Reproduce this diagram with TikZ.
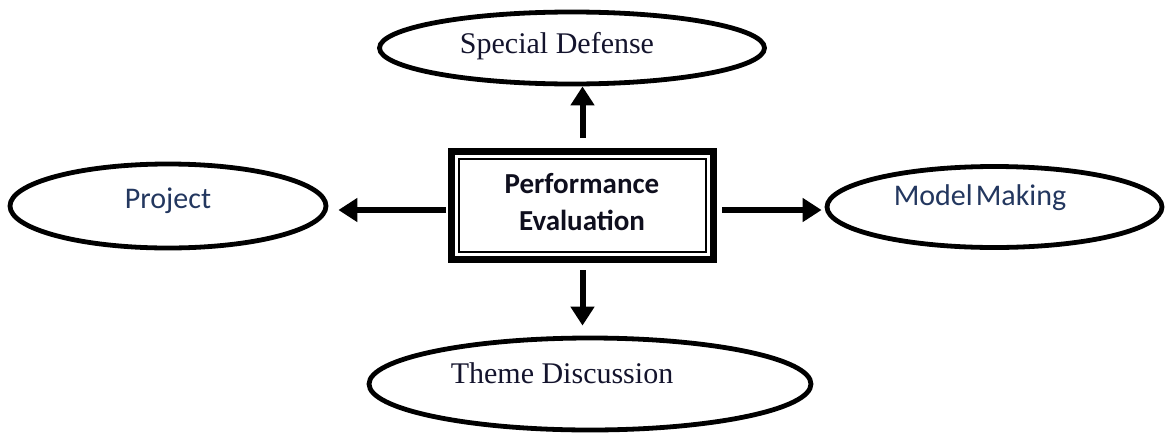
\documentclass[tikz,border=0pt]{standalone}
\usepackage{fontspec}
\setmainfont{Liberation Serif}
\newfontfamily\calib{Carlito}
\usetikzlibrary{arrows.meta,shapes.geometric}
\definecolor{sanscol}{RGB}{35,55,95}
\definecolor{serifcol}{RGB}{20,20,45}
\definecolor{boldcol}{RGB}{15,15,30}
\begin{document}
\begin{tikzpicture}[x=1pt,y=-1pt,
  oval/.style={draw, ellipse, line width=4.8pt, inner sep=0pt},
  serift/.style={font=\fontsize{30pt}{36pt}\selectfont, text=serifcol, inner sep=0pt, anchor=base},
  sanst/.style={font=\calib\fontsize{30pt}{36pt}\selectfont, text=sanscol, inner sep=0pt, anchor=base},
  boxt/.style={font=\calib\bfseries\fontsize{29pt}{37pt}\selectfont, text=boldcol, align=center, inner sep=0pt},
  arr/.style={line width=6pt, -{Triangle[length=19pt,width=23pt]}},
]
\useasboundingbox (0,0) rectangle (1166,434);

% ellipses
\node[oval, minimum width=385pt, minimum height=72pt] (sd) at (572,48) {};
\node[serift] (sdt) at (557,53) {Special Defense};
\node[oval, minimum width=442pt, minimum height=92pt] (td) at (590,384) {};
\node[serift] (tdt) at (562,383) {Theme Discussion};
\node[oval, minimum width=316pt, minimum height=84pt] (pr) at (168,206) {};
\node[sanst] (prt) at (168,208) {Project};
\node[oval, minimum width=335pt, minimum height=81pt] (mm) at (994.5,207) {};
\node[sanst] (mmt) at (980,205) {Model\kern3pt Making};

% central box
\node[minimum width=269pt, minimum height=115pt, inner sep=0pt, outer sep=0pt] (box) at (582.5,205.5) {};
\draw[line width=7pt] ([shift={(3.5pt,-3.5pt)}]box.north west) rectangle ([shift={(-3.5pt,3.5pt)}]box.south east);
\draw[line width=1.3pt] ([shift={(11pt,-11pt)}]box.north west) rectangle ([shift={(-11pt,11pt)}]box.south east);
\node[boxt] (boxtext) at (582,202) {Performance\\Evaluation};

% arrows
\draw[arr, shorten <=10pt] (box.north) -- (box.north |- sd.south);
\draw[arr, shorten <=7pt, shorten >=10pt] (box.south) -- (box.south |- td.north);
\coordinate (la) at ([yshift=-4.5pt]box.west);
\coordinate (ra) at ([yshift=-4.5pt]box.east);
\draw[arr, shorten <=2pt, shorten >=10pt] (la) -- (la -| pr.east);
\draw[arr, shorten <=5pt, shorten >=3pt] (ra) -- (ra -| mm.west);
\end{tikzpicture}
\end{document}
